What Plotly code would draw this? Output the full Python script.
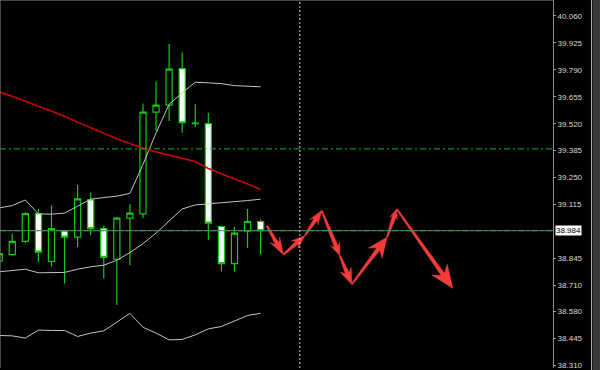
import math
import plotly.graph_objects as go

# ---------------- data ----------------
bars = list(range(21))
opens  = [38.831, 38.864, 38.931, 39.070, 38.830, 38.982, 38.952, 39.138, 38.994, 38.841, 39.047,
          39.068, 39.578, 39.613, 39.796, 39.523, 39.520, 39.005, 38.819, 38.982, 39.030]
highs  = [38.880, 38.969, 39.077, 39.093, 39.110, 38.985, 39.213, 39.176, 39.010, 39.052, 39.118,
          39.622, 39.733, 39.919, 39.877, 39.617, 39.575, 39.005, 39.002, 39.093, 39.040]
lows   = [38.820, 38.861, 38.924, 38.828, 38.803, 38.720, 38.902, 38.961, 38.745, 38.612, 38.811,
          39.047, 39.484, 39.534, 39.475, 39.504, 38.936, 38.781, 38.778, 38.897, 38.866]
closes = [38.869, 38.931, 39.070, 38.877, 38.994, 38.952, 39.143, 38.994, 38.851, 39.047, 39.072,
          39.578, 39.613, 39.794, 39.525, 39.521, 39.022, 38.819, 38.972, 39.030, 38.984]

upper_band  = [39.098, 39.110, 39.138, 39.068, 39.067, 39.072, 39.107, 39.142, 39.150, 39.157, 39.171,
               39.316, 39.474, 39.617, 39.675, 39.728, 39.725, 39.721, 39.711, 39.708, 39.705]
middle_band = [38.778, 38.786, 38.791, 38.773, 38.773, 38.775, 38.791, 38.803, 38.811, 38.836, 38.874,
               38.919, 38.972, 39.035, 39.093, 39.113, 39.118, 39.123, 39.128, 39.135, 39.142]
lower_band  = [38.459, 38.457, 38.446, 38.486, 38.484, 38.484, 38.454, 38.471, 38.482, 38.525, 38.570,
               38.500, 38.471, 38.437, 38.439, 38.462, 38.492, 38.504, 38.532, 38.559, 38.570]
moving_avg  = [39.678, 39.658, 39.633, 39.608, 39.587, 39.558, 39.528, 39.500, 39.472, 39.445, 39.421,
               39.397, 39.379, 39.364, 39.349, 39.331, 39.296, 39.268, 39.243, 39.218, 39.191]

# forecast arrow path (bar index, price)
arrow_x = [20.47, 21.74, 23.40, 24.67, 26.07, 26.97, 29.69, 30.41, 34.70]
arrow_y = [39.010, 38.864, 38.960, 39.085, 38.858, 38.715, 38.952, 39.093, 38.695]
arrow_head_len  = [17, 14, 14, 13, 16, 20, 10, 23]
arrow_head_half = [5.5, 5.0, 5.0, 5.0, 6.0, 8.5, 4.0, 9.5]

hline_levels = [39.394, 38.984]
current_price = 38.984
vline_bar = 23

tick_labels = ["40.060", "39.925", "39.790", "39.655", "39.520", "39.385", "39.250",
               "39.115", "38.845", "38.710", "38.580", "38.445", "38.310"]

# ---------------- layout constants ----------------
W, H = 600, 370
ML, MR, MT, MB = 0, 47, 0, 0
plot_w = W - ML - MR
plot_h = H - MT - MB
x_range = [0.0612, 42.37]
y_range = [38.296, 40.140]
sx = plot_w / (x_range[1] - x_range[0])
sy = plot_h / (y_range[1] - y_range[0])

GREEN = "#14c814"
fig = go.Figure()

fig.add_trace(go.Candlestick(
    x=bars, open=opens, high=highs, low=lows, close=closes,
    increasing=dict(line=dict(color=GREEN, width=1.2), fillcolor="#000000"),
    decreasing=dict(line=dict(color=GREEN, width=1.2), fillcolor="#ffffff"),
    whiskerwidth=0, hoverinfo="skip", showlegend=False,
))

for band in (upper_band, middle_band, lower_band):
    fig.add_trace(go.Scatter(x=bars, y=band, mode="lines",
                             line=dict(color="#c4c4c4", width=1), hoverinfo="skip", showlegend=False))
fig.add_trace(go.Scatter(x=bars, y=moving_avg, mode="lines",
                         line=dict(color="#c80808", width=1.6), hoverinfo="skip", showlegend=False))

# arrows as tapered polygons (computed in pixel space through the axis scales)
ax_pts, ay_pts = [], []
for i in range(len(arrow_x) - 1):
    tx, ty = arrow_x[i] * sx, arrow_y[i] * sy
    px, py = arrow_x[i + 1] * sx, arrow_y[i + 1] * sy
    L = math.hypot(px - tx, py - ty)
    ux, uy = (px - tx) / L, (py - ty) / L
    nx, ny = -uy, ux
    h, hw = arrow_head_len[i], arrow_head_half[i]
    w0, w1 = 0.7, 2.0
    bx, by = px - ux * h, py - uy * h
    kx, ky = px - ux * h * 0.75, py - uy * h * 0.75
    poly = [(tx + nx * w0, ty + ny * w0), (kx + nx * w1, ky + ny * w1), (bx + nx * hw, by + ny * hw),
            (px, py), (bx - nx * hw, by - ny * hw), (kx - nx * w1, ky - ny * w1), (tx - nx * w0, ty - ny * w0)]
    for (qx, qy) in poly:
        ax_pts.append(qx / sx)
        ay_pts.append(qy / sy)
    ax_pts.append(None)
    ay_pts.append(None)
fig.add_trace(go.Scatter(x=ax_pts, y=ay_pts, mode="lines", fill="toself", fillcolor="#f23c3c",
                         line=dict(color="#f23c3c", width=0.5), hoverinfo="skip", showlegend=False))

shapes = []
# current price line
shapes.append(dict(type="line", xref="paper", x0=0, x1=1, yref="y", y0=current_price, y1=current_price,
                   line=dict(color="#667788", width=1), layer="above"))
# green dash-dot horizontal lines
for lvl in hline_levels:
    shapes.append(dict(type="line", xref="paper", x0=0, x1=1, yref="y", y0=lvl, y1=lvl,
                       line=dict(color="#1fae1f", width=1, dash="6px,3px,2px,3px"), layer="above"))
# vertical dotted line
shapes.append(dict(type="line", xref="x", x0=vline_bar, x1=vline_bar, yref="paper", y0=0, y1=1,
                   line=dict(color="#d0d0d0", width=1, dash="2px,2px"), layer="above"))
# window frame
shapes.append(dict(type="line", xref="paper", x0=0, x1=1, yref="paper", y0=1, y1=1,
                   line=dict(color="#8a8a8a", width=1)))
shapes.append(dict(type="line", xref="paper", x0=0, x1=0, yref="paper", y0=0, y1=1,
                   line=dict(color="#8a8a8a", width=1)))
fx = lambda p: (p - ML) / plot_w
shapes.append(dict(type="rect", xref="paper", x0=fx(592.5), x1=fx(601), yref="paper", y0=-0.01, y1=1.01,
                   fillcolor="#3a3a3a", line=dict(width=0)))
shapes.append(dict(type="line", xref="paper", x0=fx(591.5), x1=fx(591.5), yref="paper", y0=-0.01, y1=1.01,
                   line=dict(color="#a8a8a8", width=1)))

fig.update_layout(
    width=W, height=H, autosize=False,
    margin=dict(l=ML, r=MR, t=MT, b=MB, pad=0),
    paper_bgcolor="#000000", plot_bgcolor="#000000",
    showlegend=False, shapes=shapes, boxgap=0.33,
    xaxis=dict(range=x_range, visible=False, rangeslider=dict(visible=False), fixedrange=True),
    yaxis=dict(range=y_range, side="right", showgrid=False, zeroline=False,
               tickvals=[float(t) for t in tick_labels], ticktext=tick_labels,
               ticks="outside", ticklen=2, tickcolor="#a0a0a0", tickwidth=1,
               showline=True, linecolor="#8a8a8a", linewidth=1,
               ticklabeloverflow="allow",
               tickfont=dict(family="Liberation Sans", size=8, color="#d8d8d8"), fixedrange=True),
    annotations=[dict(xref="paper", x=1, xanchor="left", xshift=2, yref="y", y=current_price,
                      text=f"{current_price:.3f}", showarrow=False, bgcolor="#ffffff",
                      font=dict(family="Liberation Sans", size=8, color="#000000"), borderpad=0)],
)

fig.write_html("out.html")
